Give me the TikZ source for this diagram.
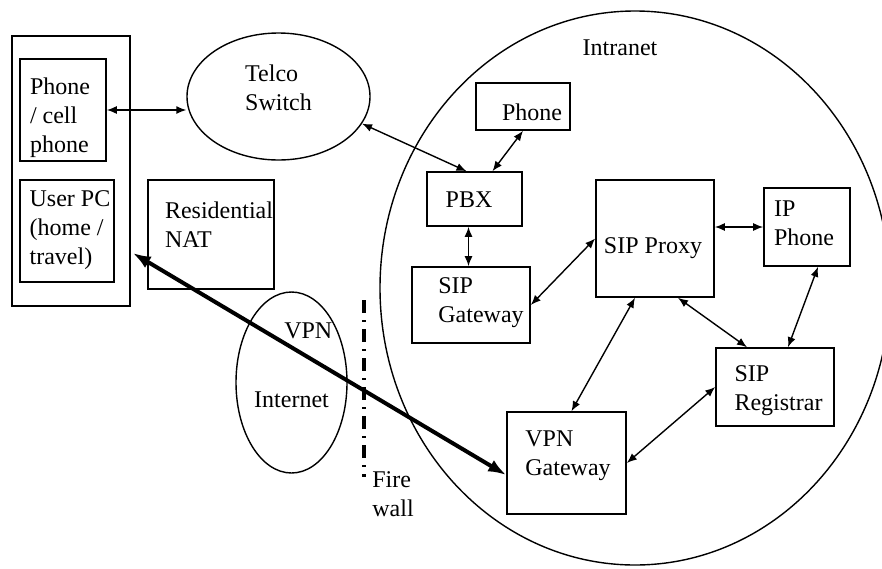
\documentclass[tikz,border=0pt]{standalone}
\usepackage{fontspec}
\setmainfont{Liberation Serif}
\usetikzlibrary{arrows.meta,shapes.geometric,calc}

\begin{document}
\begin{tikzpicture}[x=0.5pt,y=-0.5pt]
  \tikzstyle{box}=[draw,line width=0.8pt,inner sep=0pt]
  \tikzstyle{oval}=[draw,ellipse,line width=0.7pt,inner sep=0pt]
  \tikzstyle{txt}=[align=left,inner sep=0pt,font=\fontsize{12}{14.5}\selectfont]
  \tikzstyle{conn}=[line width=0.7pt,{Latex[length=5pt,width=4pt]}-{Latex[length=5pt,width=4pt]}]
  \tikzstyle{tunnel}=[line width=2pt,{Latex[length=9pt,width=6.5pt]}-{Latex[length=9pt,width=6.5pt]}]
  \useasboundingbox (0,0) rectangle (882,568);

  % intranet and internet clouds
  \node[oval,minimum width=255pt,minimum height=277pt] (intranet) at (635,288) {};
  \node[txt] (intranet-lbl) at (620,48) {Intranet};
  \node[oval,minimum width=55.5pt,minimum height=90.5pt,
        label={[txt,yshift=-8.75pt]center:Internet}] (internet) at (291.5,382.5) {};
  \node[oval,minimum width=91.5pt,minimum height=63.5pt,
        label={[txt,yshift=4.5pt]center:Telco\\Switch}] (telco) at (278.5,96.5) {};

  % user side
  \node[box,minimum width=59pt,minimum height=135pt] (user) at (71,171) {};
  \node[box,minimum width=43pt,minimum height=51pt,
        label={[txt,xshift=-1.5pt,yshift=-4pt]center:Phone\\/ cell\\phone}] (cell) at (63,110) {};
  \node[box,minimum width=47pt,minimum height=51pt,
        label={[txt,xshift=1.5pt,yshift=0.5pt]center:User PC\\(home /\\travel)}] (userpc) at (67,231) {};
  \node[box,minimum width=63pt,minimum height=54.5pt,
        label={[txt,xshift=4pt,yshift=5pt]center:Residential\\NAT}] (nat) at (211,234.5) {};

  % intranet boxes
  \node[box,minimum width=47pt,minimum height=23.5pt,
        label={[txt,xshift=4.5pt,yshift=-2.75pt]center:Phone}] (phone) at (523,106.5) {};
  \node[box,minimum width=47.5pt,minimum height=27pt,
        label={[txt,xshift=-2.75pt,yshift=-0.5pt]center:PBX}] (pbx) at (474.5,199) {};
  \node[box,minimum width=59pt,minimum height=38pt,
        label={[txt,xshift=5pt,yshift=1pt]center:SIP\\Gateway}] (sipgw) at (471,305) {};
  \node[box,minimum width=59pt,minimum height=58.5pt,
        label={[txt,xshift=-1pt,yshift=-4.75pt]center:SIP Proxy}] (proxy) at (655,238.5) {};
  \node[box,minimum width=43pt,minimum height=39pt,
        label={[txt,xshift=-1.5pt,yshift=2pt]center:IP\\Phone}] (ipphone) at (807,227) {};
  \node[box,minimum width=59pt,minimum height=39pt,
        label={[txt,xshift=1.75pt,yshift=-2pt]center:SIP\\Registrar}] (registrar) at (775,387) {};
  \node[box,minimum width=59.5pt,minimum height=51pt,
        label={[txt,xshift=0.75pt,yshift=3.75pt]center:VPN\\Gateway}] (vpngw) at (566.5,463) {};

  % firewall
  \coordinate (fw-top) at (364,300);
  \coordinate (fw-bot) at (364,477);
  \draw[line width=2pt,dash pattern=on 6.5pt off 3.5pt on 1pt off 3.5pt] (fw-top) -- (fw-bot);
  \node[txt] (fw-lbl) at (393,494) {Fire\\wall};

  % links
  \draw[conn] (cell.east) -- (cell.east -| telco.west);
  \draw[conn] (telco.-18) -- ([xshift=-4pt]pbx.north);
  \draw[conn] (phone.south) -- ([xshift=9pt]pbx.north);
  \draw[conn] ([xshift=-3pt]pbx.south) -- ([xshift=-3pt]pbx.south |- sipgw.north);
  \draw[conn] (sipgw.east) -- (proxy.west);
  \draw[conn] (ipphone.west -| proxy.east) -- (ipphone.west);
  \draw[conn] ([xshift=5.5pt]ipphone.south) -- ([xshift=6.5pt]registrar.north);
  \draw[conn] ([xshift=11.5pt]proxy.south) -- ([xshift=-14pt]registrar.north);
  \draw[conn] ([xshift=-10pt]proxy.south) -- ([xshift=2.5pt]vpngw.north);
  \draw[conn] (vpngw.east) -- (registrar.west);
  \draw[tunnel] ([xshift=9pt,yshift=-11pt]userpc.east) -- ([yshift=-6pt]vpngw.west)
    node[txt,pos=0.47,above=8pt] (vpn) {VPN};
\end{tikzpicture}
\end{document}
